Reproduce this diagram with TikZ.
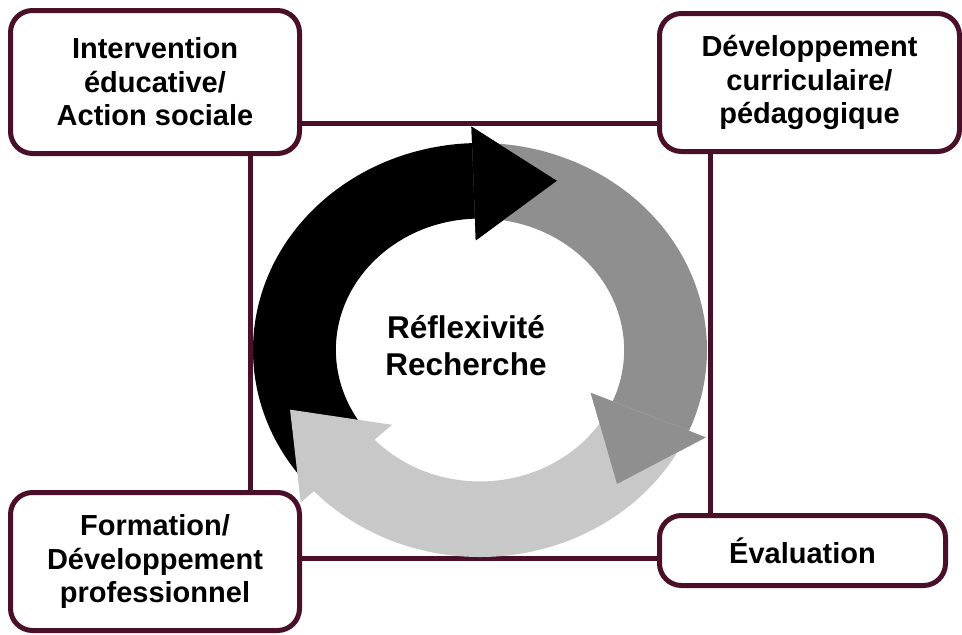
\documentclass[tikz,border=0pt]{standalone}
\usepackage{fontspec}
\setmainfont{Liberation Sans}
\usetikzlibrary{backgrounds}
\definecolor{maroon}{RGB}{74,16,42}
\definecolor{darkg}{RGB}{143,143,143}
\definecolor{lightg}{RGB}{200,200,200}
\begin{document}
\begin{tikzpicture}[x=1pt,y=-1pt,
  box/.style={draw=maroon,line width=5pt,rounded corners=22pt,fill=white,
    align=center,inner sep=0pt,font=\fontsize{29}{33.5}\selectfont\bfseries},
  conn/.style={draw=maroon,line width=5pt}]
\useasboundingbox (0,0) rectangle (962,635);
% boxes
\node[box,minimum width=289pt,minimum height=143pt] (tl) at (155,82) {Intervention\\éducative/\\Action sociale};
\node[box,minimum width=300pt,minimum height=138pt] (tr) at (809.5,82.5) {Développement\\curriculaire/\\pédagogique};
\node[box,minimum width=289pt,minimum height=138pt] (bl) at (155,561.5) {Formation/\\Développement\\professionnel};
\node[box,minimum width=286pt,minimum height=70pt] (br) at (802.5,550.5) {Évaluation};
\node[align=center,font=\fontsize{31.5}{37}\selectfont\bfseries] (c) at (466,346) {Réflexivité\\Recherche};
\begin{pgfonlayer}{background}
% connectors
\path[conn] (tl.east |- 0,123) -- (tr.west |- 0,123);
\path[conn] (tl.south -| 250,0) -- (bl.north -| 250,0);
\path[conn] (tr.south -| 710,0) -- (br.north -| 710,0);
\path[conn] (bl.east |- 0,558) -- (br.west |- 0,558);
% ring of arrows
\begin{scope}[shift={(480,350)},xscale=227,yscale=-207]
\fill[black] (223:1) arc[start angle=223,end angle=92,radius=1] -- (92:1.08) -- (67.5:0.885) -- (92:0.53) -- (92:0.635) arc[start angle=92,end angle=223,radius=0.635] -- cycle;
\fill[darkg] (92:1) arc[start angle=92,end angle=-23,radius=1] -- (-23:1.08) -- (-47:0.885) -- (-23:0.53) -- (-23:0.635) arc[start angle=-23,end angle=92,radius=0.635] -- cycle;
\fill[lightg] (337:1) arc[start angle=337,end angle=223,radius=1] -- (223:1.08) -- (199:0.885) -- (223:0.53) -- (223:0.635) arc[start angle=223,end angle=337,radius=0.635] -- cycle;
\fill[black] (92:1.08) -- (67.5:0.885) -- (92:0.53) -- cycle;
\fill[darkg] (-23:1.08) -- (-47:0.885) -- (-23:0.53) -- cycle;
\end{scope}
\end{pgfonlayer}
\end{tikzpicture}
\end{document}
